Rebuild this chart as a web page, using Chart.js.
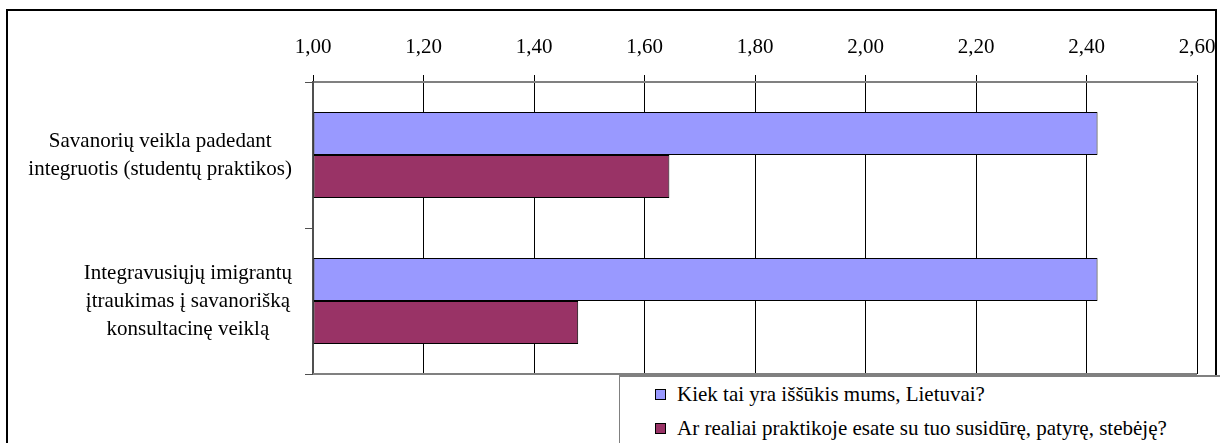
<!DOCTYPE html>
<html>
<head>
<meta charset="utf-8">
<script src="https://cdn.jsdelivr.net/npm/chart.js@4/dist/chart.umd.min.js"></script>
<style>
    body { margin: 0; background: #fff; }
    #cadre { position: relative; width: 1225px; height: 443px; overflow: hidden; }
    #legende {
        position: absolute; left: 619px; top: 375px; width: 600px; height: 80px;
        border-top: 2px solid #808080; border-left: 1px solid #808080;
        background: #fff; font-family: "Liberation Serif", "Times New Roman", Times, "DejaVu Serif", serif;
        font-size: 21px; color: #000;
    }
    .ligne { height: 34px; display: flex; align-items: center; padding-left: 35px; white-space: nowrap; }
    .carre { width: 9px; height: 9px; border: 1px solid #000; margin-right: 11px; }
</style>
</head>
<body>
<div id="cadre">
    <canvas id="graph"></canvas>
    <div id="legende"></div>
</div>
<script>
const categories = [
    ["Savanorių veikla padedant", "integruotis (studentų praktikos)"],
    ["Integravusiųjų imigrantų", "įtraukimas į savanorišką", "konsultacinę veiklą"]
];
const series = ["Kiek tai yra iššūkis mums, Lietuvai?", "Ar realiai praktikoje esate su tuo susidūrę, patyrę, stebėję?"];
const dataIssukis = [2.42, 2.42];
const dataPraktika = [1.645, 1.48];
const couleurs = ["#9999FF", "#993366"];
const axeMin = 1.0;
const axeMax = 2.6;
const axePas = 0.2;

const police = "'Liberation Serif', 'Times New Roman', Times, 'DejaVu Serif', serif";
Chart.defaults.font.family = police;
Chart.defaults.font.size = 21;
Chart.defaults.color = "#000";

// cadre extérieur, ligne du bas et étiquettes des catégories
const decor = {
    id: "decor",
    afterDraw(chart) {
        const ctx = chart.ctx;
        const area = chart.chartArea;
        const y = chart.scales.y;
        ctx.save();
        ctx.strokeStyle = "#808080";
        ctx.lineWidth = 2;
        ctx.beginPath();
        ctx.moveTo(area.left, area.bottom);
        ctx.lineTo(area.right, area.bottom);
        ctx.stroke();

        ctx.strokeStyle = "#000";
        ctx.lineWidth = 2;
        ctx.strokeRect(7, 10, 1209, 460);

        ctx.font = "21px " + police;
        ctx.fillStyle = "#000";
        ctx.textAlign = "center";
        ctx.textBaseline = "middle";
        const hauteurLigne = 28;
        const bordDroit = area.left - 21;
        for (let i = 0; i < categories.length; i++) {
            const lignes = categories[i];
            let large = 0;
            for (let l of lignes) large = Math.max(large, ctx.measureText(l).width);
            const cx = bordDroit - large / 2;
            const cy = y.getPixelForValue(i);
            for (let k = 0; k < lignes.length; k++) {
                ctx.fillText(lignes[k], cx, cy + (k - (lignes.length - 1) / 2) * hauteurLigne);
            }
        }
        ctx.restore();
    }
};

const ctx = document.getElementById("graph").getContext("2d");

new Chart(ctx, {
    type: "bar",
    data: {
        labels: categories,
        datasets: [
            {
                label: series[0],
                data: dataIssukis,
                backgroundColor: couleurs[0],
                borderColor: "#000",
                borderWidth: 1,
                borderSkipped: false,
                base: axeMin
            },
            {
                label: series[1],
                data: dataPraktika,
                backgroundColor: couleurs[1],
                borderColor: "#000",
                borderWidth: 1,
                borderSkipped: false,
                base: axeMin
            }
        ]
    },
    options: {
        indexAxis: "y",
        responsive: true,
        maintainAspectRatio: false,
        animation: false,
        datasets: {
            bar: { categoryPercentage: 0.59, barPercentage: 1 }
        },
        layout: { padding: { left: 0, top: 0, right: 28, bottom: 69 } },
        plugins: {
            legend: { display: false },
            tooltip: { enabled: false }
        },
        scales: {
            x: {
                position: "top",
                min: axeMin,
                max: axeMax,
                ticks: {
                    stepSize: axePas,
                    padding: 15,
                    maxRotation: 0,
                    callback: (v) => v.toFixed(2).replace(".", ",")
                },
                grid: { color: "#000", lineWidth: 1, tickLength: 7 },
                border: { color: "#808080", width: 2 },
                afterFit: (s) => { s.height = 82; s.paddingLeft = 0; s.paddingRight = 0; }
            },
            y: {
                ticks: { display: false },
                grid: { drawOnChartArea: false, tickLength: 8, color: "#505050", offset: true },
                border: { color: "#505050", width: 2 },
                afterFit: (s) => { s.width = 313; }
            }
        }
    },
    plugins: [decor]
});

// légende en HTML
const legende = document.getElementById("legende");
for (let i = 0; i < series.length; i++) {
    const ligne = document.createElement("div");
    ligne.className = "ligne";
    const carre = document.createElement("span");
    carre.className = "carre";
    carre.style.background = couleurs[i];
    const texte = document.createElement("span");
    texte.innerText = series[i];
    ligne.appendChild(carre);
    ligne.appendChild(texte);
    legende.appendChild(ligne);
}
</script>
</body>
</html>
